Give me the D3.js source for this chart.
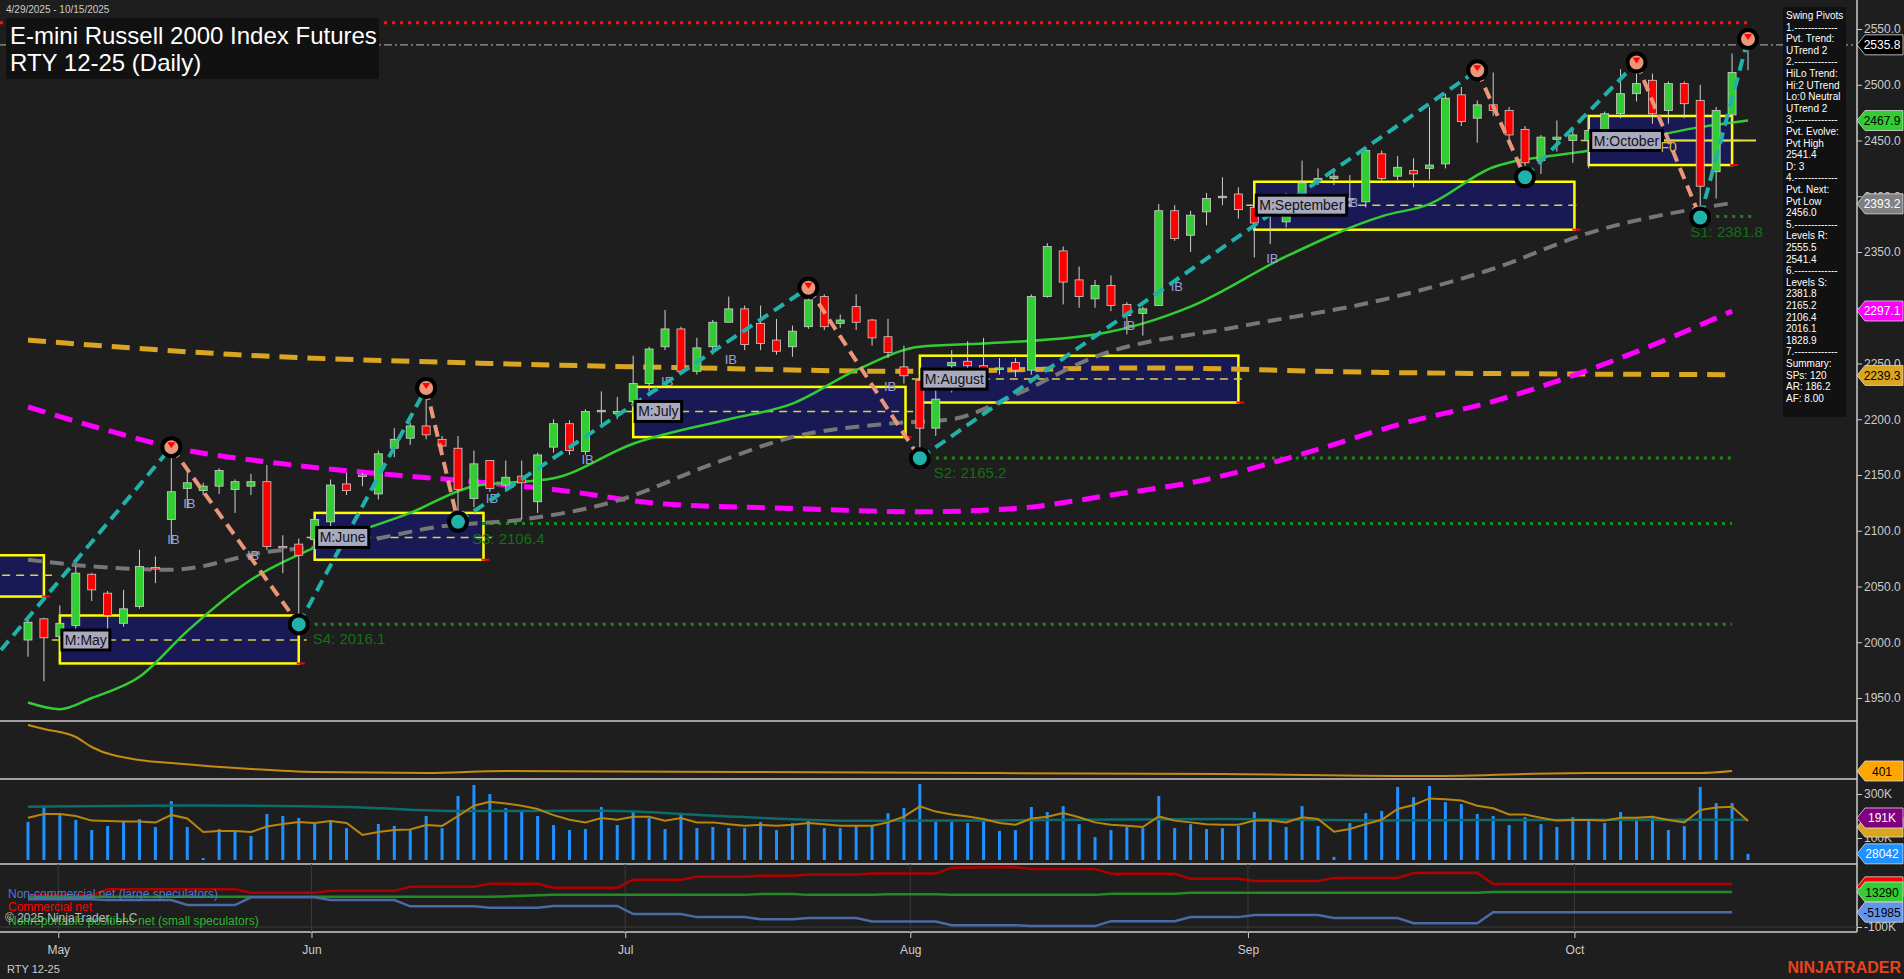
<!DOCTYPE html>
<html><head><meta charset="utf-8">
<script src="https://cdn.jsdelivr.net/npm/d3@7"></script>
<style>body{margin:0;background:#1e1e1e;overflow:hidden}svg{display:block}text{font-family:Arial,"Liberation Sans",sans-serif}</style>
</head><body><svg id="c" width="1904" height="979"></svg>
<script>
// ---------- DATA ----------
const opens  = [2002,2021,2005,2015,2061,2044,2017,2032,2067,2110,2138,2136,2140,2137,2140,2144,2086,2088,2092,2108,2142,2150,2133,2174,2183,2194,2182,2174,2129,2163,2141,2149,2126,2175,2196,2171,2207,2205,2216,2232,2265,2281,2243,2265,2287,2299,2286,2271,2265,2283,2310,2286,2301,2289,2274,2247,2235,2192,2248,2252,2248,2246,2251,2244,2310,2351,2325,2308,2320,2303,2295,2302,2387,2365,2386,2399,2402,2390,2385,2377,2400,2413,2416,2398,2395,2438,2418,2423,2425,2429,2491,2470,2482,2477,2460,2432,2451,2450,2450,2459,2474,2492,2504,2477,2501,2486,2422,2473,2540];
const highs  = [2020,2022,2033,2068,2062,2046,2047,2083,2077,2175,2155,2143,2156,2146,2151,2159,2096,2093,2112,2146,2152,2152,2172,2192,2197,2228,2185,2185,2172,2163,2163,2163,2170,2200,2199,2209,2225,2220,2257,2265,2298,2283,2273,2289,2310,2302,2302,2290,2284,2318,2312,2294,2312,2290,2290,2266,2240,2228,2262,2270,2273,2255,2255,2312,2358,2355,2337,2325,2329,2305,2301,2393,2392,2387,2403,2417,2408,2393,2393,2403,2432,2425,2422,2419,2443,2441,2436,2434,2480,2492,2498,2486,2511,2480,2463,2455,2468,2462,2470,2476,2514,2520,2510,2503,2503,2500,2480,2528,2543];
const lows   = [1987,1965,2000,2010,2037,2012,2014,2030,2053,2088,2120,2132,2133,2116,2132,2083,2062,2015,2080,2100,2132,2140,2128,2166,2177,2182,2170,2110,2121,2135,2135,2110,2116,2170,2168,2168,2196,2200,2205,2225,2262,2240,2240,2258,2287,2262,2262,2258,2256,2281,2280,2282,2280,2266,2255,2232,2165,2185,2224,2240,2235,2240,2238,2240,2309,2303,2300,2300,2297,2276,2275,2302,2360,2350,2374,2392,2380,2345,2357,2372,2395,2410,2410,2390,2390,2414,2414,2408,2415,2425,2463,2448,2472,2450,2419,2420,2440,2430,2425,2455,2470,2485,2465,2465,2470,2381,2398,2465,2513];
const closes = [2018,2004,2017,2062,2047,2024,2030,2068,2066,2135,2143,2140,2154,2144,2144,2086,2085,2078,2110,2141,2136,2149,2169,2182,2194,2186,2176,2137,2160,2138,2148,2143,2168,2196,2172,2207,2208,2207,2232,2263,2281,2243,2264,2287,2299,2267,2268,2261,2279,2307,2283,2289,2287,2273,2260,2239,2192,2218,2251,2248,2244,2246,2244,2310,2355,2323,2310,2320,2302,2293,2299,2387,2362,2383,2398,2400,2388,2376,2390,2400,2412,2416,2418,2398,2441,2416,2426,2420,2428,2488,2467,2482,2477,2455,2430,2453,2453,2455,2459,2474,2492,2501,2474,2501,2483,2409,2477,2511,2536];
const volumes = [173,245,209,182,136,155,177,186,150,268,150,9,141,136,109,209,200,191,164,182,145,0,164,155,136,200,145,291,341,300,236,221,200,159,136,141,241,159,221,191,141,213,145,150,145,145,173,136,168,182,145,145,154,154,213,236,345,173,173,168,177,132,136,241,218,245,163,104,136,150,145,291,145,163,141,145,154,218,177,150,245,154,14,168,213,223,332,286,336,263,254,209,200,159,195,163,150,195,177,168,218,195,200,136,154,332,259,259,28];
const volAvgFast = [192,209,209,200,179,177,175,175,170,205,189,127,132,132,127,152,164,173,168,177,168,114,127,136,139,159,155,200,247,265,257,247,232,204,183,171,191,183,197,197,179,191,171,171,163,156,160,156,160,168,163,156,156,156,171,197,244,220,207,198,186,168,160,189,197,213,194,171,160,156,150,198,179,171,163,160,160,179,179,171,194,186,129,141,163,183,232,250,280,276,270,247,235,207,207,192,179,182,182,179,192,192,197,182,171,227,239,242,177];
const volAvgSlowIdx = [0,10,20,27,36,44,52,60,75,85,92,108];
const volAvgSlow    = [242,248,241,223,224,198,178,180,186,180,182,183];
const monthIdx    = [1.9,17.8,37.5,55.4,76.6,97.1];
const monthLabels = ["May","Jun","Jul","Aug","Sep","Oct"];
const priceTicks  = [1950,2000,2050,2100,2150,2200,2250,2300,2350,2400,2450,2500,2550];
const smaGreenIdx = [0,2,4,7,10,14,18,24,28,33,38,44,48,52,56,60,67,73,79,85,88,92,98,105,108];
const smaGreen    = [1946,1940,1950,1969,2010,2056,2085,2116,2140,2147,2178,2200,2214,2244,2265,2268,2276,2301,2346,2382,2393,2426,2441,2462,2468];
const smaGrayIdx  = [0,4,9,15,20,26,31,37,43,48,54,58,62,67,76,85,92,98,107];
const smaGray     = [2074,2068,2065,2081,2088,2104,2110,2127,2160,2184,2196,2200,2222,2256,2283,2307,2335,2367,2394];
const smaMagIdx   = [0,5,9,16,23,28,33,40,48,56,62,68,74,81,86,92,100,107];
const smaMag      = [2211,2190,2175,2160,2150,2144,2137,2124,2120,2117,2120,2132,2146,2173,2195,2216,2255,2297];
const smaOrgIdx   = [0,13,29,42,55,70,85,107];
const smaOrg      = [2271,2258,2250,2246,2243,2246,2242,2240];
const swingIdx   = [-1.7,9,17,25,27,49,56,91,94,101,105,108];
const swingPrice = [1993,2175,2016,2228,2108,2318,2165,2513,2417,2520,2381,2541];
const boxNames = ["","M:May","M:June","M:July","M:August","M:September","M:October"];
const boxStart = [-2,2,18,38,56,77,98];
const boxEnd   = [1,17,28.6,55.1,76,97.1,107];
const boxHigh  = [2078,2024,2116,2229,2257,2413,2472];
const boxLow   = [2041,1981,2074,2184,2215,2370,2428];
const boxMid   = [2060,2002,2094,2207,2236,2392,2450];
const supNames = ["S1: 2381.8","S2: 2165.2","S3: 2106.4","S4: 2016.1"];
const supVal   = [2381.8,2165.2,2106.4,2016.1];
const supFrom  = [105,56,27,17];
const resVal = 2555.5, lastVal = 2535.8;
const atrIdx = [0,1,3,4,7,9,14,18,25,30,45,60,75,88,98,105,107];
const atrVal = [907,863,775,665,522,489,423,390,379,401,390,379,368,346,379,379,401];
const cotRedIdx = [0,4,5,13,14,18,19,23,24,28,29,32,33,37,38,41,42,45,46,48,49,52,53,57,58,62,63,67,68,72,73,76,77,81,82,86,87,91,92,107];
const cotRed    = [3,3,22,22,11,11,17,17,30,30,40,40,27,27,53,53,63,63,66,66,70,70,73,73,92,94,88,88,72,72,56,56,49,49,59,59,75,76,39,39];
const cotGreenIdx = [0,29,33,45,46,48,49,53,54,57,58,67,68,72,73,91,92,107];
const cotGreen    = [-2,-2,4,4,7,7,4,4,6,6,4,4,8,8,11,11,13.3,13.3];
const cotBlueIdx = [0,4,5,9,10,13,14,18,19,23,24,28,29,32,33,37,38,41,42,45,46,48,49,52,53,57,58,62,63,67,68,72,73,76,77,81,82,86,87,91,92,107];
const cotBlue    = [-10,-10,-13,-13,-29,-29,-4,-4,-13,-13,-33,-33,-38,-38,-32,-32,-58,-58,-68,-68,-75,-75,-71,-71,-82,-82,-94,-94,-97,-97,-81,-81,-68,-68,-61,-61,-71,-71,-88,-88,-52,-52];
const infoLines = ["Swing Pivots","1.-------------","Pvt. Trend:","UTrend 2","2.-------------","HiLo Trend:","Hi:2 UTrend","Lo:0 Neutral","UTrend 2","3.-------------","Pvt. Evolve:","Pvt High","2541.4","D: 3","4.-------------","Pvt. Next:","Pvt Low","2456.0","5.-------------","Levels R:","2555.5","2541.4","6.-------------","Levels S:","2381.8","2165.2","2106.4","2016.1","1828.9","7.-------------","Summary:","SPs: 120","AR: 186.2","AF: 8.00"];
const ibIdx = [9,10,14,27,29,35,40,44,54,58,69,72,78,83,94,105];
const ibVal = [2088,2120,2074,2110,2125,2160,2230,2250,2225,2232,2280,2315,2340,2390,2415,2378];

// ---------- DRAW ----------
const svg = d3.select("#c");
const AX = 1857;
const x = d3.scaleLinear().domain([0,108]).range([28,1748]);
const y = d3.scaleLinear().domain([1950,2550]).range([698,29]);
const yAtr = d3.scaleLinear().domain([401,500]).range([771,762]);
const yVol = d3.scaleLinear().domain([0,300]).range([860,794]);
const yCot = d3.scaleLinear().domain([-100,13.3]).range([927,892]);

const main = svg.append("g");
svg.append("clipPath").attr("id","cm").append("rect").attr("x",0).attr("y",0).attr("width",AX).attr("height",721);
main.attr("clip-path","url(#cm)");

boxNames.forEach((n,i)=>{
  const x0=x(boxStart[i]), x1=x(boxEnd[i]);
  main.append("rect").attr("x",x0).attr("y",y(boxHigh[i])).attr("width",x1-x0).attr("height",y(boxLow[i])-y(boxHigh[i]))
    .attr("fill","#191a55").attr("stroke","#ffff00").attr("stroke-width",2.5);
  main.append("line").attr("x1",x0-8).attr("x2",x1+8).attr("y1",y(boxMid[i])).attr("y2",y(boxMid[i]))
    .attr("stroke","#d4d44a").attr("stroke-width",1.5).attr("stroke-dasharray",i==6?null:"8,6");
  main.append("line").attr("x1",x1-2).attr("x2",x1+6).attr("y1",y(boxLow[i])).attr("y2",y(boxLow[i])).attr("stroke","red").attr("stroke-width",2);
});
main.append("line").attr("x1",x(98)).attr("x2",x(108)+8).attr("y1",y(2450)).attr("y2",y(2450)).attr("stroke","#e0e040").attr("stroke-width",2);

main.append("line").attr("x1",0).attr("x2",x(108)).attr("y1",y(resVal)).attr("y2",y(resVal)).attr("stroke","#ff1010").attr("stroke-width",3).attr("stroke-dasharray","3,5");
main.append("line").attr("x1",0).attr("x2",AX).attr("y1",y(lastVal)).attr("y2",y(lastVal)).attr("stroke","#999").attr("stroke-width",1.3).attr("stroke-dasharray","8,3,2,3");
supVal.forEach((v,i)=>{
  main.append("line").attr("x1",x(supFrom[i])).attr("x2",i==0?x(108)+6:x(107)).attr("y1",y(v)).attr("y2",y(v))
    .attr("stroke","#1a8a1a").attr("stroke-width",3).attr("stroke-dasharray","3,5");
  main.append("text").attr("x",x(supFrom[i])+(i==0?-10:14)).attr("y",y(v)+20).attr("fill","#137013").attr("font-size",15).text(supNames[i]);
});

const ln = (idx,vals,sc)=>d3.line().x((d,i)=>x(idx[i])).y(d=>sc(d)).curve(d3.curveMonotoneX)(vals);
main.append("path").attr("d",ln(smaOrgIdx,smaOrg,y)).attr("fill","none").attr("stroke","#daa520").attr("stroke-width",5).attr("stroke-dasharray","18,10");
main.append("path").attr("d",ln(smaMagIdx,smaMag,y)).attr("fill","none").attr("stroke","#ff00ff").attr("stroke-width",5).attr("stroke-dasharray","18,10");
main.append("path").attr("d",ln(smaGrayIdx,smaGray,y)).attr("fill","none").attr("stroke","#777").attr("stroke-width",4).attr("stroke-dasharray","14,8");
main.append("path").attr("d",ln(smaGreenIdx,smaGreen,y)).attr("fill","none").attr("stroke","#32cd32").attr("stroke-width",2.5);

const cw=8;
closes.forEach((c,i)=>{
  const o=opens[i], up=c>=o, cx=x(i);
  main.append("line").attr("x1",cx).attr("x2",cx).attr("y1",y(highs[i])).attr("y2",y(lows[i])).attr("stroke","#cfcfcf").attr("stroke-width",1);
  const t=y(Math.max(o,c)), b=y(Math.min(o,c));
  main.append("rect").attr("x",cx-cw/2).attr("y",t).attr("width",cw).attr("height",Math.max(1.5,b-t))
    .attr("fill",up?"#32cd32":"#ff0000").attr("stroke","#cfcfcf").attr("stroke-width",0.8);
});

ibIdx.forEach((k,i)=>main.append("text").attr("x",x(k)-4).attr("y",y(ibVal[i])).attr("fill","#9aa0d8").attr("font-size",13).text("IB"));

for(let i=0;i<swingIdx.length-1;i++){
  const upLeg = swingPrice[i+1]>swingPrice[i];
  main.append("line").attr("x1",x(swingIdx[i])).attr("y1",y(swingPrice[i])).attr("x2",x(swingIdx[i+1])).attr("y2",y(swingPrice[i+1]))
    .attr("stroke",upLeg?"#20b2aa":"#e9967a").attr("stroke-width",4).attr("stroke-dasharray","12,7");
}
swingIdx.forEach((k,i)=>{ if(i==0) return;
  const hi = i==swingIdx.length-1 || swingPrice[i]>swingPrice[i+1];
  main.append("circle").attr("cx",x(k)).attr("cy",y(swingPrice[i])).attr("r",9).attr("fill",hi?"#e9967a":"#20b2aa").attr("stroke","#000").attr("stroke-width",4);
  if(hi) main.append("path").attr("d",`M${x(k)-4},${y(swingPrice[i])-5}h8l-4,6z`).attr("fill","red");
});

boxNames.forEach((n,i)=>{ if(!n) return;
  const g=main.append("g");
  const t=g.append("text").attr("x",x(boxStart[i])+5).attr("y",y(boxMid[i])+5).attr("font-family","'DejaVu Sans Mono',monospace").attr("font-size",14).attr("fill","#111").text(n);
  const bb=t.node().getBBox();
  g.insert("rect","text").attr("x",bb.x-3).attr("y",bb.y-2).attr("width",bb.width+6).attr("height",bb.height+4).attr("fill","#a9a9c0").attr("stroke","#000").attr("stroke-width",3);
});
main.append("text").attr("x",x(102.5)).attr("y",y(2440)).attr("fill","#d4c040").attr("font-size",14).text("F0");

[721,779,864,932].forEach(v=>svg.append("line").attr("x1",0).attr("x2",AX).attr("y1",v).attr("y2",v).attr("stroke","#ccc").attr("stroke-width",1.5));
svg.append("line").attr("x1",AX).attr("x2",AX).attr("y1",0).attr("y2",932).attr("stroke","#ccc").attr("stroke-width",1.5);
monthIdx.forEach(m=>svg.append("line").attr("x1",x(m)).attr("x2",x(m)).attr("y1",864).attr("y2",932).attr("stroke","#3a3a3a"));
svg.append("line").attr("x1",0).attr("x2",AX).attr("y1",yCot(-100)).attr("y2",yCot(-100)).attr("stroke","#3a3a3a");

const ay = svg.append("g").attr("transform",`translate(${AX},0)`).call(d3.axisRight(y).tickValues(priceTicks).tickFormat(d3.format(".1f")).tickSize(5).tickPadding(2));
const ax = svg.append("g").attr("transform","translate(0,932)").call(d3.axisBottom(x).tickValues(monthIdx).tickFormat((d,i)=>monthLabels[i]).tickSize(6));
const av = svg.append("g").attr("transform",`translate(${AX},0)`).call(d3.axisRight(yVol).tickValues([100,300]).tickFormat(d=>d+"K").tickSize(5).tickPadding(2));
const ac = svg.append("g").attr("transform",`translate(${AX},0)`).call(d3.axisRight(yCot).tickValues([-100]).tickFormat(d=>d+"K").tickSize(5).tickPadding(2));
[ay,ax,av,ac].forEach(a=>{a.select(".domain").remove();a.selectAll("line").attr("stroke","#ccc");a.selectAll("text").attr("fill","#ccc").attr("font-size",12).attr("font-family","Arial");});
ax.selectAll("text").attr("dy","1.1em");

svg.append("path").attr("d",ln(atrIdx,atrVal,yAtr)).attr("fill","none").attr("stroke","#c88a10").attr("stroke-width",2);
volumes.forEach((v,i)=>svg.append("rect").attr("x",x(i)-1.5).attr("y",yVol(v)).attr("width",3).attr("height",yVol(0)-yVol(v)).attr("fill","#1e90ff"));
svg.append("path").attr("d",ln(volAvgSlowIdx,volAvgSlow,yVol)).attr("fill","none").attr("stroke","#0e6b6b").attr("stroke-width",2.5);
svg.append("path").attr("d",d3.line().x((d,i)=>x(i)).y(d=>yVol(d))(volAvgFast)).attr("fill","none").attr("stroke","#b8860b").attr("stroke-width",2);
const lin=(idx,vals,sc)=>d3.line().x((d,i)=>x(idx[i])).y(d=>sc(d))(vals);
svg.append("path").attr("d",lin(cotRedIdx,cotRed,yCot)).attr("fill","none").attr("stroke","#b00000").attr("stroke-width",2.5);
svg.append("path").attr("d",lin(cotGreenIdx,cotGreen,yCot)).attr("fill","none").attr("stroke","#228b22").attr("stroke-width",2.5);
svg.append("path").attr("d",lin(cotBlueIdx,cotBlue,yCot)).attr("fill","none").attr("stroke","#4a6aa8").attr("stroke-width",2.5);
svg.append("text").attr("x",8).attr("y",898).attr("fill","#4a78d8").attr("font-size",12).text("Non-commercial net (large speculators)");
svg.append("text").attr("x",8).attr("y",911).attr("fill","#ff0000").attr("font-size",12).text("Commercial net");
svg.append("text").attr("x",8).attr("y",925).attr("fill","#2eb82e").attr("font-size",12).text("Nonreportable positions net (small speculators)");
svg.append("text").attr("x",5).attr("y",922).attr("fill","#bbb").attr("font-size",12).text("© 2025 NinjaTrader, LLC");

function badge(yy,label,fill,tc){
  svg.append("path").attr("d",`M${AX},${yy}l8,-10h${1903-AX-8}v20h-${1903-AX-8}z`).attr("fill",fill).attr("stroke","#ddd").attr("stroke-width",0.8);
  svg.append("text").attr("x",1882).attr("y",yy+4.5).attr("text-anchor","middle").attr("font-size",12).attr("fill",tc).text(label);
}
badge(y(2535.8),"2535.8","#000","#fff");
badge(y(2467.9),"2467.9","#32cd32","#000");
badge(y(2393.2),"2393.2","#808080","#fff");
badge(y(2297.1),"2297.1","#ff00ff","#fff");
badge(y(2239.3),"2239.3","#daa520","#000");
badge(yAtr(401),"401","#ffa500","#000");
badge(yVol(177)+6,"","#daa520","#000");
badge(yVol(191),"191K","#800080","#fff");
badge(yVol(28),"28042","#1e90ff","#fff");
badge(yCot(30),"28695","#ff0000","#000");
badge(yCot(13.3),"13290","#32cd32","#000");
badge(yCot(-52),"-51985","#6495ed","#000");

svg.append("rect").attr("x",1783).attr("y",7).attr("width",63).attr("height",410).attr("fill","#111");
infoLines.forEach((t,i)=>svg.append("text").attr("x",1786).attr("y",19+i*11.6).attr("fill","#fff").attr("font-size",10).text(t));

svg.append("rect").attr("x",6).attr("y",18).attr("width",373).attr("height",61).attr("fill","#111");
svg.append("text").attr("x",6).attr("y",13).attr("fill","#ccc").attr("font-size",10).text("4/29/2025 - 10/15/2025");
svg.append("text").attr("x",10).attr("y",44).attr("fill","#fff").attr("font-size",24).text("E-mini Russell 2000 Index Futures");
svg.append("text").attr("x",10).attr("y",71).attr("fill","#fff").attr("font-size",24).text("RTY 12-25 (Daily)");
svg.append("text").attr("x",7).attr("y",973).attr("fill","#ccc").attr("font-size",11).text("RTY 12-25");
svg.append("text").attr("x",1901).attr("y",973).attr("text-anchor","end").attr("fill","#e8431c").attr("font-size",16).attr("font-weight","bold").text("NINJATRADER");
</script></body></html>
